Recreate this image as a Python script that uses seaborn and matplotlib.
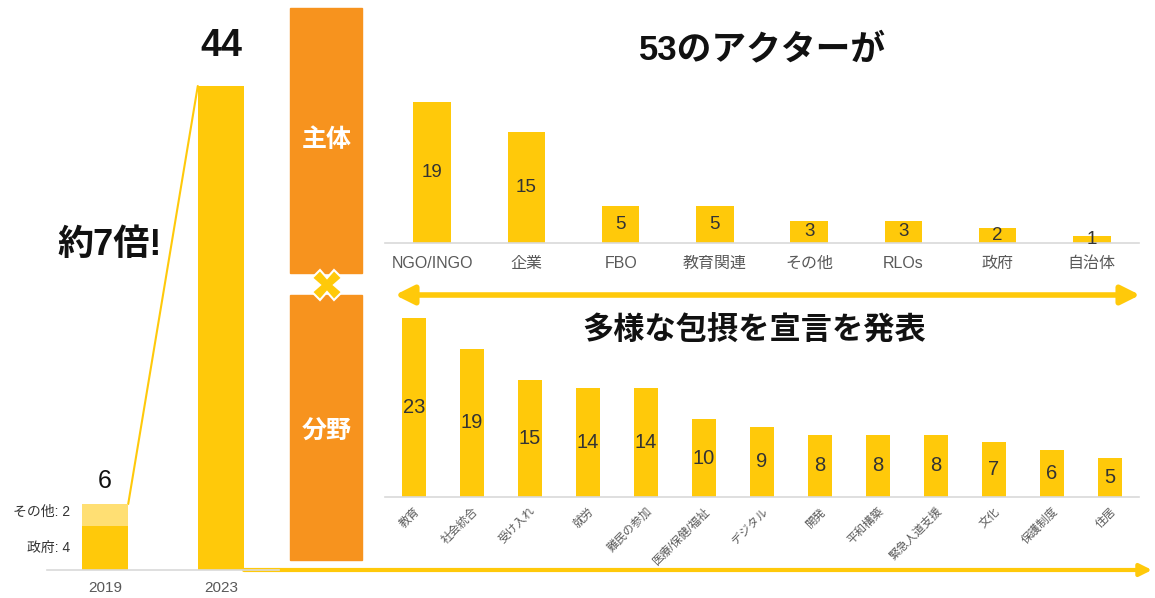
import matplotlib
matplotlib.use("Agg")
import matplotlib.pyplot as plt
import seaborn as sns
import pandas as pd
from matplotlib.patches import Rectangle

# data
years = ["2019", "2023"]
total_actors = [6, 44]
gov_2019 = 4
other_2019 = 2

actor_types = ["NGO/INGO", "企業", "FBO", "教育関連", "その他", "RLOs", "政府", "自治体"]
actor_counts = [19, 15, 5, 5, 3, 3, 2, 1]

fields = ["教育", "社会統合", "受け入れ", "就労", "難民の参加", "医療/保健/福祉", "デジタル",
          "開発", "平和構築", "緊急人道支援", "文化", "保護制度", "住居"]
field_counts = [23, 19, 15, 14, 14, 10, 9, 8, 8, 8, 7, 6, 5]

YELLOW = "#FFC90A"
LIGHT_YELLOW = "#FFDF73"
ORANGE = "#F7931E"
GRAY_TXT = "#595959"
GRAY_LINE = "#D9D9D9"

sns.set_theme(style="white")
plt.rcParams["font.family"] = ["Liberation Sans", "Noto Sans CJK JP", "DejaVu Sans"]

W, H = 1155, 598
fig = plt.figure(figsize=(W / 100, H / 100), dpi=100)


def px_axes(left, top, right, bottom):
    return fig.add_axes([left / W, 1 - bottom / H, (right - left) / W, (bottom - top) / H])


# background overlay in pixel coords for decorations
bg = px_axes(0, 0, W, H)
bg.set_xlim(0, W)
bg.set_ylim(H, 0)
bg.axis("off")

# ---- left: 2019 vs 2023 ----
ax1 = px_axes(47, 86, 279, 570)
df_years = pd.DataFrame({"year": years, "count": total_actors})
sns.barplot(data=df_years, x="year", y="count", color=YELLOW, width=0.4,
            saturation=1, linewidth=0, ax=ax1)
# stacked part for 2019 (その他 on top of 政府)
ax1.bar(0, other_2019, bottom=gov_2019, width=0.4, color=LIGHT_YELLOW, linewidth=0, zorder=3)
ax1.set_xlim(-0.5, 1.5)
ax1.set_ylim(0, max(total_actors))
ax1.set_xlabel("")
ax1.set_ylabel("")
ax1.set_yticks([])
ax1.tick_params(axis="x", length=0, labelsize=11, labelcolor=GRAY_TXT, pad=8)
for s in ["left", "right", "top"]:
    ax1.spines[s].set_visible(False)
ax1.spines["bottom"].set_color(GRAY_LINE)
ax1.spines["bottom"].set_linewidth(1.2)
ax1.text(0, total_actors[0] + 1.0, str(total_actors[0]), ha="center", va="bottom",
         fontsize=18, color="#111111")
ax1.text(1, total_actors[1] + 2.0, str(total_actors[1]), ha="center", va="bottom",
         fontsize=27, fontweight="bold", color="#111111", clip_on=False)
ax1.text(-0.3, gov_2019 + other_2019 / 2 + 0.3, f"その他: {other_2019}", ha="right", va="center",
         fontsize=10, color="#333333")
ax1.text(-0.3, gov_2019 / 2, f"政府: {gov_2019}", ha="right", va="center",
         fontsize=10, color="#333333")
ax1.plot([0.2, 0.8], [total_actors[0], total_actors[1]], color=YELLOW, lw=1.5, clip_on=False)
ax1.patch.set_alpha(0)

bg.text(110, 245, "約7倍!", ha="center", va="center", fontsize=26, fontweight="bold",
        color="#111111")

# bottom arrow
bg.annotate("", xy=(1152, 570), xytext=(244, 570),
            arrowprops=dict(arrowstyle="-|>", color=YELLOW, lw=3, mutation_scale=18,
                            shrinkA=0, shrinkB=0))

# ---- orange panels ----
bg.add_patch(Rectangle((290, 8), 72, 265, color=ORANGE, zorder=1))
bg.add_patch(Rectangle((290, 295), 72, 265, color=ORANGE, zorder=1))
bg.text(327, 140, "主体", ha="center", va="center", fontsize=18, fontweight="bold",
        color="white", zorder=2)
bg.text(327, 432, "分野", ha="center", va="center", fontsize=18, fontweight="bold",
        color="white", zorder=2)
bg.plot([327], [285], marker="X", markersize=21, color=YELLOW, markeredgecolor="white",
        markeredgewidth=1.5, zorder=3)

# ---- top right: actors ----
ax2 = px_axes(385, 94.6, 1139, 243)
df_act = pd.DataFrame({"type": actor_types, "count": actor_counts})
sns.barplot(data=df_act, x="type", y="count", color=YELLOW, width=0.4, saturation=1,
            linewidth=0, ax=ax2)
ax2.set_xlim(-0.5, len(actor_types) - 0.5)
ax2.set_ylim(0, 20)
ax2.bar_label(ax2.containers[0], label_type="center", fontsize=13.5, color="#333333")
ax2.set_xlabel("")
ax2.set_ylabel("")
ax2.set_yticks([])
ax2.tick_params(axis="x", length=0, labelsize=11.5, labelcolor=GRAY_TXT, pad=9)
for s in ["left", "right", "top"]:
    ax2.spines[s].set_visible(False)
ax2.spines["bottom"].set_color(GRAY_LINE)
ax2.spines["bottom"].set_linewidth(1.2)
ax2.patch.set_alpha(0)

bg.text(763, 50, "53のアクターが", ha="center", va="center", fontsize=25, fontweight="bold",
        color="#111111")

# double arrow
bg.annotate("", xy=(1140, 295), xytext=(395, 295),
            arrowprops=dict(arrowstyle="<|-|>", color=YELLOW, lw=4, mutation_scale=28,
                            shrinkA=0, shrinkB=0))
bg.text(754, 330, "多様な包摂を宣言を発表", ha="center", va="center", fontsize=22.5,
        fontweight="bold", color="#111111")

# ---- bottom right: fields ----
ax3 = px_axes(385, 310, 1139, 497)
df_fld = pd.DataFrame({"field": fields, "count": field_counts})
sns.barplot(data=df_fld, x="field", y="count", color=YELLOW, width=0.4, saturation=1,
            linewidth=0, ax=ax3)
ax3.set_xlim(-0.5, len(fields) - 0.5)
ax3.set_ylim(0, 24)
ax3.bar_label(ax3.containers[0], label_type="center", fontsize=14.5, color="#333333")
ax3.set_xlabel("")
ax3.set_ylabel("")
ax3.set_yticks([])
ax3.tick_params(axis="x", length=0, labelsize=8.3, labelcolor=GRAY_TXT, pad=6)
for lab in ax3.get_xticklabels():
    lab.set_rotation(45)
    lab.set_ha("right")
    lab.set_rotation_mode("anchor")
for s in ["left", "right", "top"]:
    ax3.spines[s].set_visible(False)
ax3.spines["bottom"].set_color(GRAY_LINE)
ax3.spines["bottom"].set_linewidth(1.2)
ax3.patch.set_alpha(0)

fig.savefig("out.png", dpi=100)
